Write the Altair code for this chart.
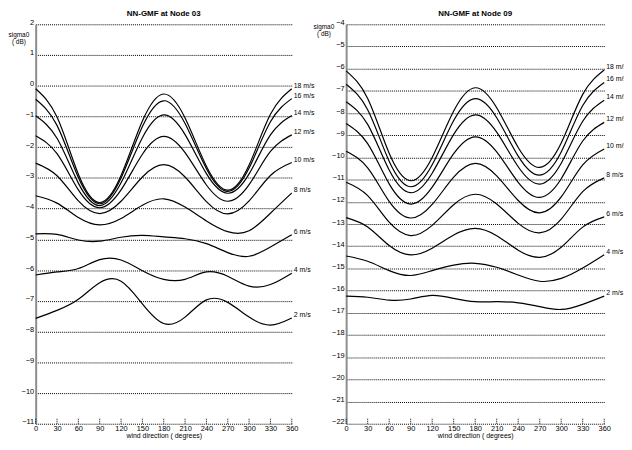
import altair as alt
import pandas as pd

DIRS = [0, 30, 60, 90, 120, 150, 180, 210, 240, 270, 300, 330, 360]
SPEED_LABELS = ["18 m/s", "16 m/s", "14 m/s", "12 m/s", "10 m/s", "8 m/s", "6 m/s", "4 m/s", "2 m/s"]

# Node 03 (sigma0 in dB at each wind direction in DIRS)
N03_18 = [-0.10, -1.02, -2.88, -3.80, -2.92, -1.15, -0.27, -1.05, -2.62, -3.40, -2.58, -0.93, -0.10]
N03_16 = [-0.44, -1.29, -2.99, -3.84, -3.00, -1.33, -0.49, -1.23, -2.70, -3.44, -2.68, -1.17, -0.42]
N03_14 = [-0.98, -1.71, -3.17, -3.90, -3.16, -1.69, -0.95, -1.59, -2.86, -3.50, -2.87, -1.60, -0.97]
N03_12 = [-1.63, -2.21, -3.39, -3.97, -3.39, -2.23, -1.65, -2.18, -3.23, -3.76, -3.22, -2.14, -1.60]
N03_10 = [-2.52, -2.93, -3.75, -4.16, -3.76, -2.97, -2.57, -2.97, -3.77, -4.17, -3.75, -2.92, -2.50]
N03_08 = [-3.58, -3.82, -4.29, -4.53, -4.32, -3.89, -3.68, -3.95, -4.40, -4.75, -4.72, -4.15, -3.49]
N03_06 = [-4.82, -4.84, -5.02, -5.06, -4.93, -4.87, -4.92, -4.98, -5.14, -5.43, -5.55, -5.25, -4.85]
N03_04 = [-6.16, -6.06, -5.95, -5.66, -5.67, -6.02, -6.30, -6.30, -6.06, -6.20, -6.52, -6.47, -6.10]
N03_02 = [-7.57, -7.31, -6.95, -6.41, -6.36, -7.10, -7.74, -7.53, -6.97, -7.05, -7.53, -7.79, -7.56]

# Node 09
N09_18 = [-6.10, -7.34, -9.81, -11.05, -10.00, -7.91, -6.86, -7.76, -9.55, -10.45, -9.35, -7.16, -6.06]
N09_16 = [-6.70, -7.85, -10.17, -11.32, -10.33, -8.34, -7.35, -8.21, -9.94, -10.80, -9.76, -7.66, -6.62]
N09_14 = [-7.49, -8.51, -10.57, -11.59, -10.71, -8.96, -8.08, -8.86, -10.42, -11.20, -10.26, -8.37, -7.42]
N09_12 = [-8.47, -9.38, -11.19, -12.10, -11.34, -9.83, -9.07, -9.75, -11.12, -11.80, -10.96, -9.26, -8.42]
N09_10 = [-9.72, -10.47, -11.98, -12.73, -12.12, -10.89, -10.27, -10.83, -11.94, -12.50, -11.78, -10.34, -9.62]
N09_08 = [-11.12, -11.72, -12.92, -13.52, -13.06, -12.13, -11.66, -12.10, -12.97, -13.40, -12.78, -11.54, -10.92]
N09_06 = [-12.71, -13.13, -13.97, -14.39, -14.09, -13.50, -13.20, -13.53, -14.18, -14.50, -14.05, -13.14, -12.68]
N09_04 = [-14.44, -14.68, -15.10, -15.32, -15.10, -14.85, -14.77, -14.95, -15.30, -15.58, -15.45, -14.98, -14.38]
N09_02 = [-16.25, -16.30, -16.43, -16.38, -16.22, -16.35, -16.50, -16.50, -16.55, -16.72, -16.85, -16.62, -16.25]

N03 = [N03_18, N03_16, N03_14, N03_12, N03_10, N03_08, N03_06, N03_04, N03_02]
N09 = [N09_18, N09_16, N09_14, N09_12, N09_10, N09_08, N09_06, N09_04, N09_02]

FONT = "Liberation Sans"


def long_df(series):
    rows = []
    for lab, vals in zip(SPEED_LABELS, series):
        for d, v in zip(DIRS, vals):
            rows.append({"dir": d, "sigma": v, "speed": lab})
    return pd.DataFrame(rows)


def panel(title, series, ymin, ymax, width, height, tx, ty):
    df = long_df(series)
    xs = alt.Scale(domain=[0, 360], nice=False, zero=False)
    ys = alt.Scale(domain=[ymin, ymax], nice=False, zero=False)
    xax = alt.Axis(values=DIRS, grid=False, domain=False, ticks=False, labelOverlap=False,
                   labelFlush=False,
                   labelFont=FONT, labelFontSize=7.5, labelPadding=1, labelColor="black",
                   title="wind direction ( degrees)", titleFont=FONT, titleFontSize=7,
                   titleFontWeight="normal", titlePadding=-1, titleColor="black")
    yax = alt.Axis(values=list(range(ymin, ymax + 1)), grid=True, gridColor="black",
                   gridDash=[1, 1], gridWidth=1, gridOpacity=1, labelOverlap=False,
                   labelFlush=False,
                   domain=True, domainColor="#8c8c8c", domainWidth=2, ticks=False,
                   labelFont=FONT, labelFontSize=7.5, labelColor="black", labelPadding=2,
                   labelOffset=-2,
                   title=["sigma0", "( dB)"], titleFont=FONT, titleFontSize=6.5,
                   titleFontWeight="normal", titleAngle=0, titleAlign="center",
                   titleBaseline="top", titleX=tx, titleY=ty, titleLineHeight=7,
                   titleColor="black")
    X = alt.X("dir:Q", scale=xs, axis=xax)
    Y = alt.Y("sigma:Q", scale=ys, axis=yax)
    lines = alt.Chart(df).mark_line(color="black", strokeWidth=1.2, interpolate="natural").encode(
        x=X, y=Y, detail="speed:N",
    )
    labels = alt.Chart(df).transform_filter(alt.datum.dir == 360).mark_text(
        align="left", baseline="middle", dx=2, dy=-3, font=FONT, fontSize=7, color="black"
    ).encode(x=X, y=Y, text="speed:N")
    ticks = alt.Chart(pd.DataFrame({"dir": DIRS})).mark_rule(
        color="black", strokeDash=[1, 1], strokeWidth=1).encode(
        x=X,
        y=alt.value(height),
        y2=alt.value(height - 6),
    )
    return alt.layer(lines, ticks, labels).properties(
        width=width, height=height,
        title=alt.TitleParams(title, font=FONT, fontSize=8, fontWeight="bold",
                              anchor="middle", offset=0, frame="group", color="black"),
    )


left = panel("NN-GMF at Node 03", N03, -11, 2, 259, 404, -17.5, 7)
right = panel("NN-GMF at Node 09", N09, -22, -4, 261, 404, -23, -1)

chart = alt.hconcat(left, right, spacing=55, bounds="flush").properties(
    padding={"left": 0, "top": 0, "right": -4, "bottom": 0}
).configure_view(stroke=None)

chart.save("out.html", embed_options={"renderer": "svg", "actions": False})
